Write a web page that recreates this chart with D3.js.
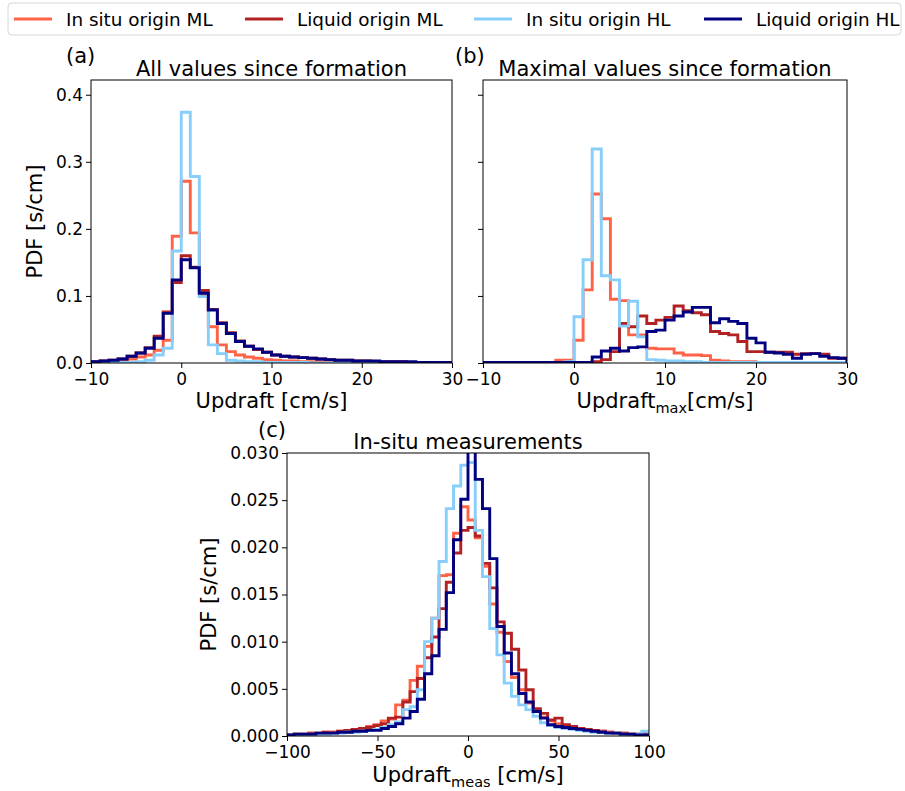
<!DOCTYPE html>
<html>
<head>
<meta charset="utf-8">
<script src="https://cdn.jsdelivr.net/npm/d3@7"></script>
<style>
  body { margin: 0; background: #fff; }
  svg { font-family: 'DejaVu Sans', sans-serif; }
</style>
</head>
<body>
<svg id="chart" width="905" height="791"></svg>
<script>
// series names and colours (draw order: first drawn first)
const seriesNames = ['In situ origin ML', 'Liquid origin ML', 'In situ origin HL', 'Liquid origin HL']
const seriesColors = ['#ff6347', '#b22222', '#87cefa', '#000080']

// (a) all values since formation, bins of 1 cm/s starting at -10
const aInsituML = [0.001, 0.002, 0.003, 0.004, 0.006, 0.009, 0.012, 0.019, 0.034, 0.189,
  0.271, 0.194, 0.100, 0.054, 0.027, 0.017, 0.012, 0.009, 0.007, 0.005,
  0.004, 0.003, 0.003, 0.002, 0.002, 0.002, 0.001, 0.001, 0.001, 0.001,
  0.001, 0.001, 0.001, 0.001, 0.001, 0.001, 0.001, 0.001, 0.001, 0.001]
const aLiquidML = [0.002, 0.003, 0.004, 0.006, 0.010, 0.015, 0.023, 0.040, 0.076, 0.120,
  0.160, 0.143, 0.108, 0.080, 0.060, 0.045, 0.033, 0.025, 0.020, 0.016,
  0.012, 0.010, 0.009, 0.008, 0.007, 0.006, 0.005, 0.004, 0.004, 0.003,
  0.003, 0.002, 0.002, 0.002, 0.002, 0.001, 0.001, 0.001, 0.001, 0.001]
const aInsituHL = [0.000, 0.000, 0.001, 0.001, 0.001, 0.002, 0.004, 0.012, 0.022, 0.167,
  0.374, 0.278, 0.099, 0.027, 0.014, 0.004, 0.003, 0.002, 0.002, 0.001,
  0.001, 0.001, 0.001, 0.001, 0.000, 0.000, 0.000, 0.000, 0.000, 0.000,
  0.000, 0.000, 0.000, 0.000, 0.000, 0.000, 0.000, 0.000, 0.000, 0.000]
const aLiquidHL = [0.002, 0.003, 0.004, 0.006, 0.010, 0.015, 0.022, 0.037, 0.074, 0.124,
  0.154, 0.142, 0.104, 0.079, 0.059, 0.044, 0.032, 0.025, 0.021, 0.016,
  0.012, 0.010, 0.009, 0.008, 0.007, 0.006, 0.005, 0.004, 0.004, 0.003,
  0.003, 0.003, 0.002, 0.002, 0.002, 0.002, 0.001, 0.001, 0.001, 0.001]

// (b) maximal values since formation, bins of 1 cm/s starting at -10
const bInsituML = [0.000, 0.000, 0.000, 0.000, 0.000, 0.000, 0.000, 0.000, 0.004, 0.004,
  0.034, 0.109, 0.252, 0.215, 0.095, 0.093, 0.042, 0.042, 0.022, 0.021,
  0.021, 0.015, 0.012, 0.012, 0.011, 0.004, 0.003, 0.002, 0.002, 0.002,
  0.001, 0.001, 0.001, 0.001, 0.001, 0.001, 0.001, 0.001, 0.001, 0.001]
const bLiquidML = [0.000, 0.000, 0.000, 0.000, 0.000, 0.000, 0.000, 0.000, 0.000, 0.000,
  0.000, 0.000, 0.002, 0.005, 0.017, 0.059, 0.054, 0.070, 0.059, 0.064,
  0.068, 0.085, 0.078, 0.075, 0.072, 0.047, 0.044, 0.042, 0.032, 0.017,
  0.017, 0.016, 0.016, 0.016, 0.013, 0.014, 0.014, 0.013, 0.007, 0.007]
const bInsituHL = [0.000, 0.000, 0.000, 0.000, 0.000, 0.000, 0.000, 0.000, 0.000, 0.002,
  0.069, 0.154, 0.319, 0.130, 0.124, 0.055, 0.092, 0.039, 0.005, 0.004,
  0.003, 0.003, 0.002, 0.002, 0.001, 0.001, 0.001, 0.001, 0.001, 0.001,
  0.001, 0.001, 0.001, 0.001, 0.001, 0.001, 0.001, 0.001, 0.001, 0.001]
const bLiquidHL = [0.001, 0.001, 0.001, 0.001, 0.001, 0.001, 0.001, 0.001, 0.001, 0.001,
  0.001, 0.001, 0.009, 0.018, 0.022, 0.018, 0.023, 0.024, 0.047, 0.049,
  0.064, 0.070, 0.076, 0.083, 0.083, 0.060, 0.066, 0.062, 0.059, 0.037,
  0.030, 0.016, 0.015, 0.013, 0.007, 0.013, 0.014, 0.010, 0.008, 0.007]

// (c) in-situ measurements, bins of 4 cm/s starting at -100
const cInsituML = [0.0001, 0.0002, 0.0002, 0.0003, 0.0003, 0.0004, 0.0004, 0.0005, 0.0006, 0.0007,
  0.0008, 0.0010, 0.0012, 0.0016, 0.0018, 0.0033, 0.0038, 0.0059, 0.0074, 0.0095,
  0.0125, 0.0170, 0.0171, 0.0215, 0.0243, 0.0229, 0.0210, 0.0180, 0.0140, 0.0110,
  0.0079, 0.0062, 0.0049, 0.0035, 0.0026, 0.0020, 0.0016, 0.0013, 0.0011, 0.0009,
  0.0008, 0.0007, 0.0006, 0.0005, 0.0004, 0.0003, 0.0003, 0.0002, 0.0002, 0.0003]
const cLiquidML = [0.0001, 0.0002, 0.0002, 0.0003, 0.0003, 0.0004, 0.0004, 0.0005, 0.0006, 0.0007,
  0.0008, 0.0009, 0.0011, 0.0013, 0.0019, 0.0020, 0.0036, 0.0047, 0.0061, 0.0083,
  0.0105, 0.0135, 0.0163, 0.0194, 0.0218, 0.0221, 0.0212, 0.0183, 0.0157, 0.0121,
  0.0109, 0.0092, 0.0070, 0.0049, 0.0029, 0.0024, 0.0017, 0.0019, 0.0012, 0.0010,
  0.0008, 0.0007, 0.0006, 0.0005, 0.0004, 0.0003, 0.0003, 0.0002, 0.0002, 0.0001]
const cInsituHL = [0.0001, 0.0001, 0.0001, 0.0002, 0.0002, 0.0002, 0.0003, 0.0003, 0.0004, 0.0004,
  0.0005, 0.0006, 0.0007, 0.0009, 0.0012, 0.0015, 0.0028, 0.0031, 0.0049, 0.0100,
  0.0125, 0.0185, 0.0241, 0.0265, 0.0287, 0.0290, 0.0218, 0.0169, 0.0114, 0.0086,
  0.0056, 0.0042, 0.0033, 0.0028, 0.0021, 0.0014, 0.0011, 0.0009, 0.0008, 0.0007,
  0.0006, 0.0005, 0.0004, 0.0004, 0.0003, 0.0003, 0.0002, 0.0002, 0.0002, 0.0005]
const cLiquidHL = [0.0001, 0.0002, 0.0002, 0.0002, 0.0003, 0.0003, 0.0003, 0.0004, 0.0004, 0.0005,
  0.0005, 0.0006, 0.0006, 0.0008, 0.0010, 0.0013, 0.0019, 0.0026, 0.0039, 0.0066,
  0.0085, 0.0113, 0.0152, 0.0208, 0.0251, 0.0302, 0.0272, 0.0241, 0.0188, 0.0116,
  0.0088, 0.0066, 0.0045, 0.0036, 0.0026, 0.0019, 0.0012, 0.0010, 0.0009, 0.0008,
  0.0007, 0.0006, 0.0005, 0.0004, 0.0003, 0.0003, 0.0002, 0.0002, 0.0001, 0.0001]

// tick values
const abXTicks = [-10, 0, 10, 20, 30]
const abYTicks = [0, 0.1, 0.2, 0.3, 0.4]
const cXTicks = [-100, -50, 0, 50, 100]
const cYTicks = [0, 0.005, 0.01, 0.015, 0.02, 0.025, 0.03]

const svg = d3.select('#chart')
const tickFont = 17
const labelFont = 21
const legendFont = 18.4

const fmtMinus = (s) => s.replace('-', '\u2212')

const stepPoints = (edges, values) => {
  const pts = [[edges[0], 0]]
  values.forEach((v, i) => {
    pts.push([edges[i], v])
    pts.push([edges[i + 1], v])
  })
  pts.push([edges[edges.length - 1], 0])
  return pts
}

const drawPanel = ({ id, box, xDomain, yDomain, binStart, binWidth, series, xTicks, yTicks, yFormat, showYLabels }) => {
  const x = d3.scaleLinear().domain(xDomain).range([box.left, box.right])
  const y = d3.scaleLinear().domain(yDomain).range([box.bottom, box.top])

  svg.append('clipPath').attr('id', 'clip-' + id)
    .append('rect')
    .attr('x', box.left).attr('y', box.top)
    .attr('width', box.right - box.left).attr('height', box.bottom - box.top)

  const line = d3.line().x((d) => x(d[0])).y((d) => y(d[1]))

  const g = svg.append('g').attr('clip-path', 'url(#clip-' + id + ')')
  series.forEach((values, i) => {
    const edges = d3.range(values.length + 1).map((k) => binStart + k * binWidth)
    g.append('path')
      .attr('d', line(stepPoints(edges, values)))
      .attr('fill', 'none')
      .attr('stroke', seriesColors[i])
      .attr('stroke-width', 2.9)
      .attr('stroke-linejoin', 'miter')
  })

  const xAxis = d3.axisBottom(x).tickValues(xTicks).tickSize(5).tickPadding(5)
    .tickFormat((d) => fmtMinus(String(d)))
  const yAxis = d3.axisLeft(y).tickValues(yTicks).tickSize(5).tickPadding(3)
    .tickFormat(showYLabels ? yFormat : () => '')

  const gx = svg.append('g').attr('transform', `translate(0,${box.bottom})`).call(xAxis)
  const gy = svg.append('g').attr('transform', `translate(${box.left},0)`).call(yAxis)
  ;[gx, gy].forEach((ax) => {
    ax.select('.domain').remove()
    ax.selectAll('line').attr('stroke', '#000').attr('stroke-width', 1)
    ax.selectAll('text').attr('fill', '#000').style('font-size', tickFont + 'px')
      .style('font-family', "'DejaVu Sans', sans-serif")
  })

  svg.append('rect')
    .attr('x', box.left).attr('y', box.top)
    .attr('width', box.right - box.left).attr('height', box.bottom - box.top)
    .attr('fill', 'none').attr('stroke', '#000').attr('stroke-width', 1)
}

const boxA = { left: 91, right: 452, top: 80, bottom: 363 }
const boxB = { left: 483, right: 847, top: 80, bottom: 363 }
const boxC = { left: 287, right: 649, top: 453, bottom: 736 }

drawPanel({
  id: 'a', box: boxA, xDomain: [-10, 30], yDomain: [0, 0.422], binStart: -10, binWidth: 1,
  series: [aInsituML, aLiquidML, aInsituHL, aLiquidHL],
  xTicks: abXTicks, yTicks: abYTicks, yFormat: d3.format('.1f'), showYLabels: true,
})
drawPanel({
  id: 'b', box: boxB, xDomain: [-10, 30], yDomain: [0, 0.422], binStart: -10, binWidth: 1,
  series: [bInsituML, bLiquidML, bInsituHL, bLiquidHL],
  xTicks: abXTicks, yTicks: abYTicks, yFormat: d3.format('.1f'), showYLabels: false,
})
drawPanel({
  id: 'c', box: boxC, xDomain: [-100, 100], yDomain: [0, 0.03], binStart: -100, binWidth: 4,
  series: [cInsituML, cLiquidML, cInsituHL, cLiquidHL],
  xTicks: cXTicks, yTicks: cYTicks, yFormat: d3.format('.3f'), showYLabels: true,
})

// texts
const addText = (txt, xPos, yPos, anchor, rotate) => {
  const t = svg.append('text')
    .attr('x', xPos).attr('y', yPos)
    .attr('text-anchor', anchor || 'middle')
    .style('font-size', labelFont + 'px')
    .text(txt)
  if (rotate) t.attr('transform', `rotate(-90,${xPos},${yPos})`)
  return t
}

addText('(a)', 66, 63, 'start')
addText('(b)', 455, 63, 'start')
addText('(c)', 258, 437, 'start')
addText('All values since formation', (boxA.left + boxA.right) / 2, 76)
addText('Maximal values since formation', (boxB.left + boxB.right) / 2, 76)
addText('In-situ measurements', (boxC.left + boxC.right) / 2, 449)
addText('PDF [s/cm]', 42, (boxA.top + boxA.bottom) / 2, 'middle', true)
addText('PDF [s/cm]', 216, (boxC.top + boxC.bottom) / 2, 'middle', true)
addText('Updraft [cm/s]', (boxA.left + boxA.right) / 2, 408)

const subLabel = (main, sub, rest, xPos, yPos) => {
  const t = addText('', xPos, yPos)
  t.append('tspan').text(main)
  t.append('tspan').attr('dy', 5).style('font-size', '14.5px').text(sub)
  t.append('tspan').attr('dy', -5).text(rest)
}
subLabel('Updraft', 'max', '[cm/s]', (boxB.left + boxB.right) / 2, 408)
subLabel('Updraft', 'meas', ' [cm/s]', (boxC.left + boxC.right) / 2, 782)

// legend
const legend = svg.append('g')
legend.append('rect')
  .attr('x', 8).attr('y', 3).attr('width', 893).attr('height', 32)
  .attr('rx', 4).attr('fill', '#fff').attr('stroke', '#d6d6d6').attr('stroke-width', 1)
const legendX = [14, 245, 474, 704]
seriesNames.forEach((name, i) => {
  legend.append('line')
    .attr('x1', legendX[i]).attr('x2', legendX[i] + 38)
    .attr('y1', 19).attr('y2', 19)
    .attr('stroke', seriesColors[i]).attr('stroke-width', 2.9)
  legend.append('text')
    .attr('x', legendX[i] + 52).attr('y', 25.5)
    .style('font-size', legendFont + 'px')
    .text(name)
})
</script>
</body>
</html>
